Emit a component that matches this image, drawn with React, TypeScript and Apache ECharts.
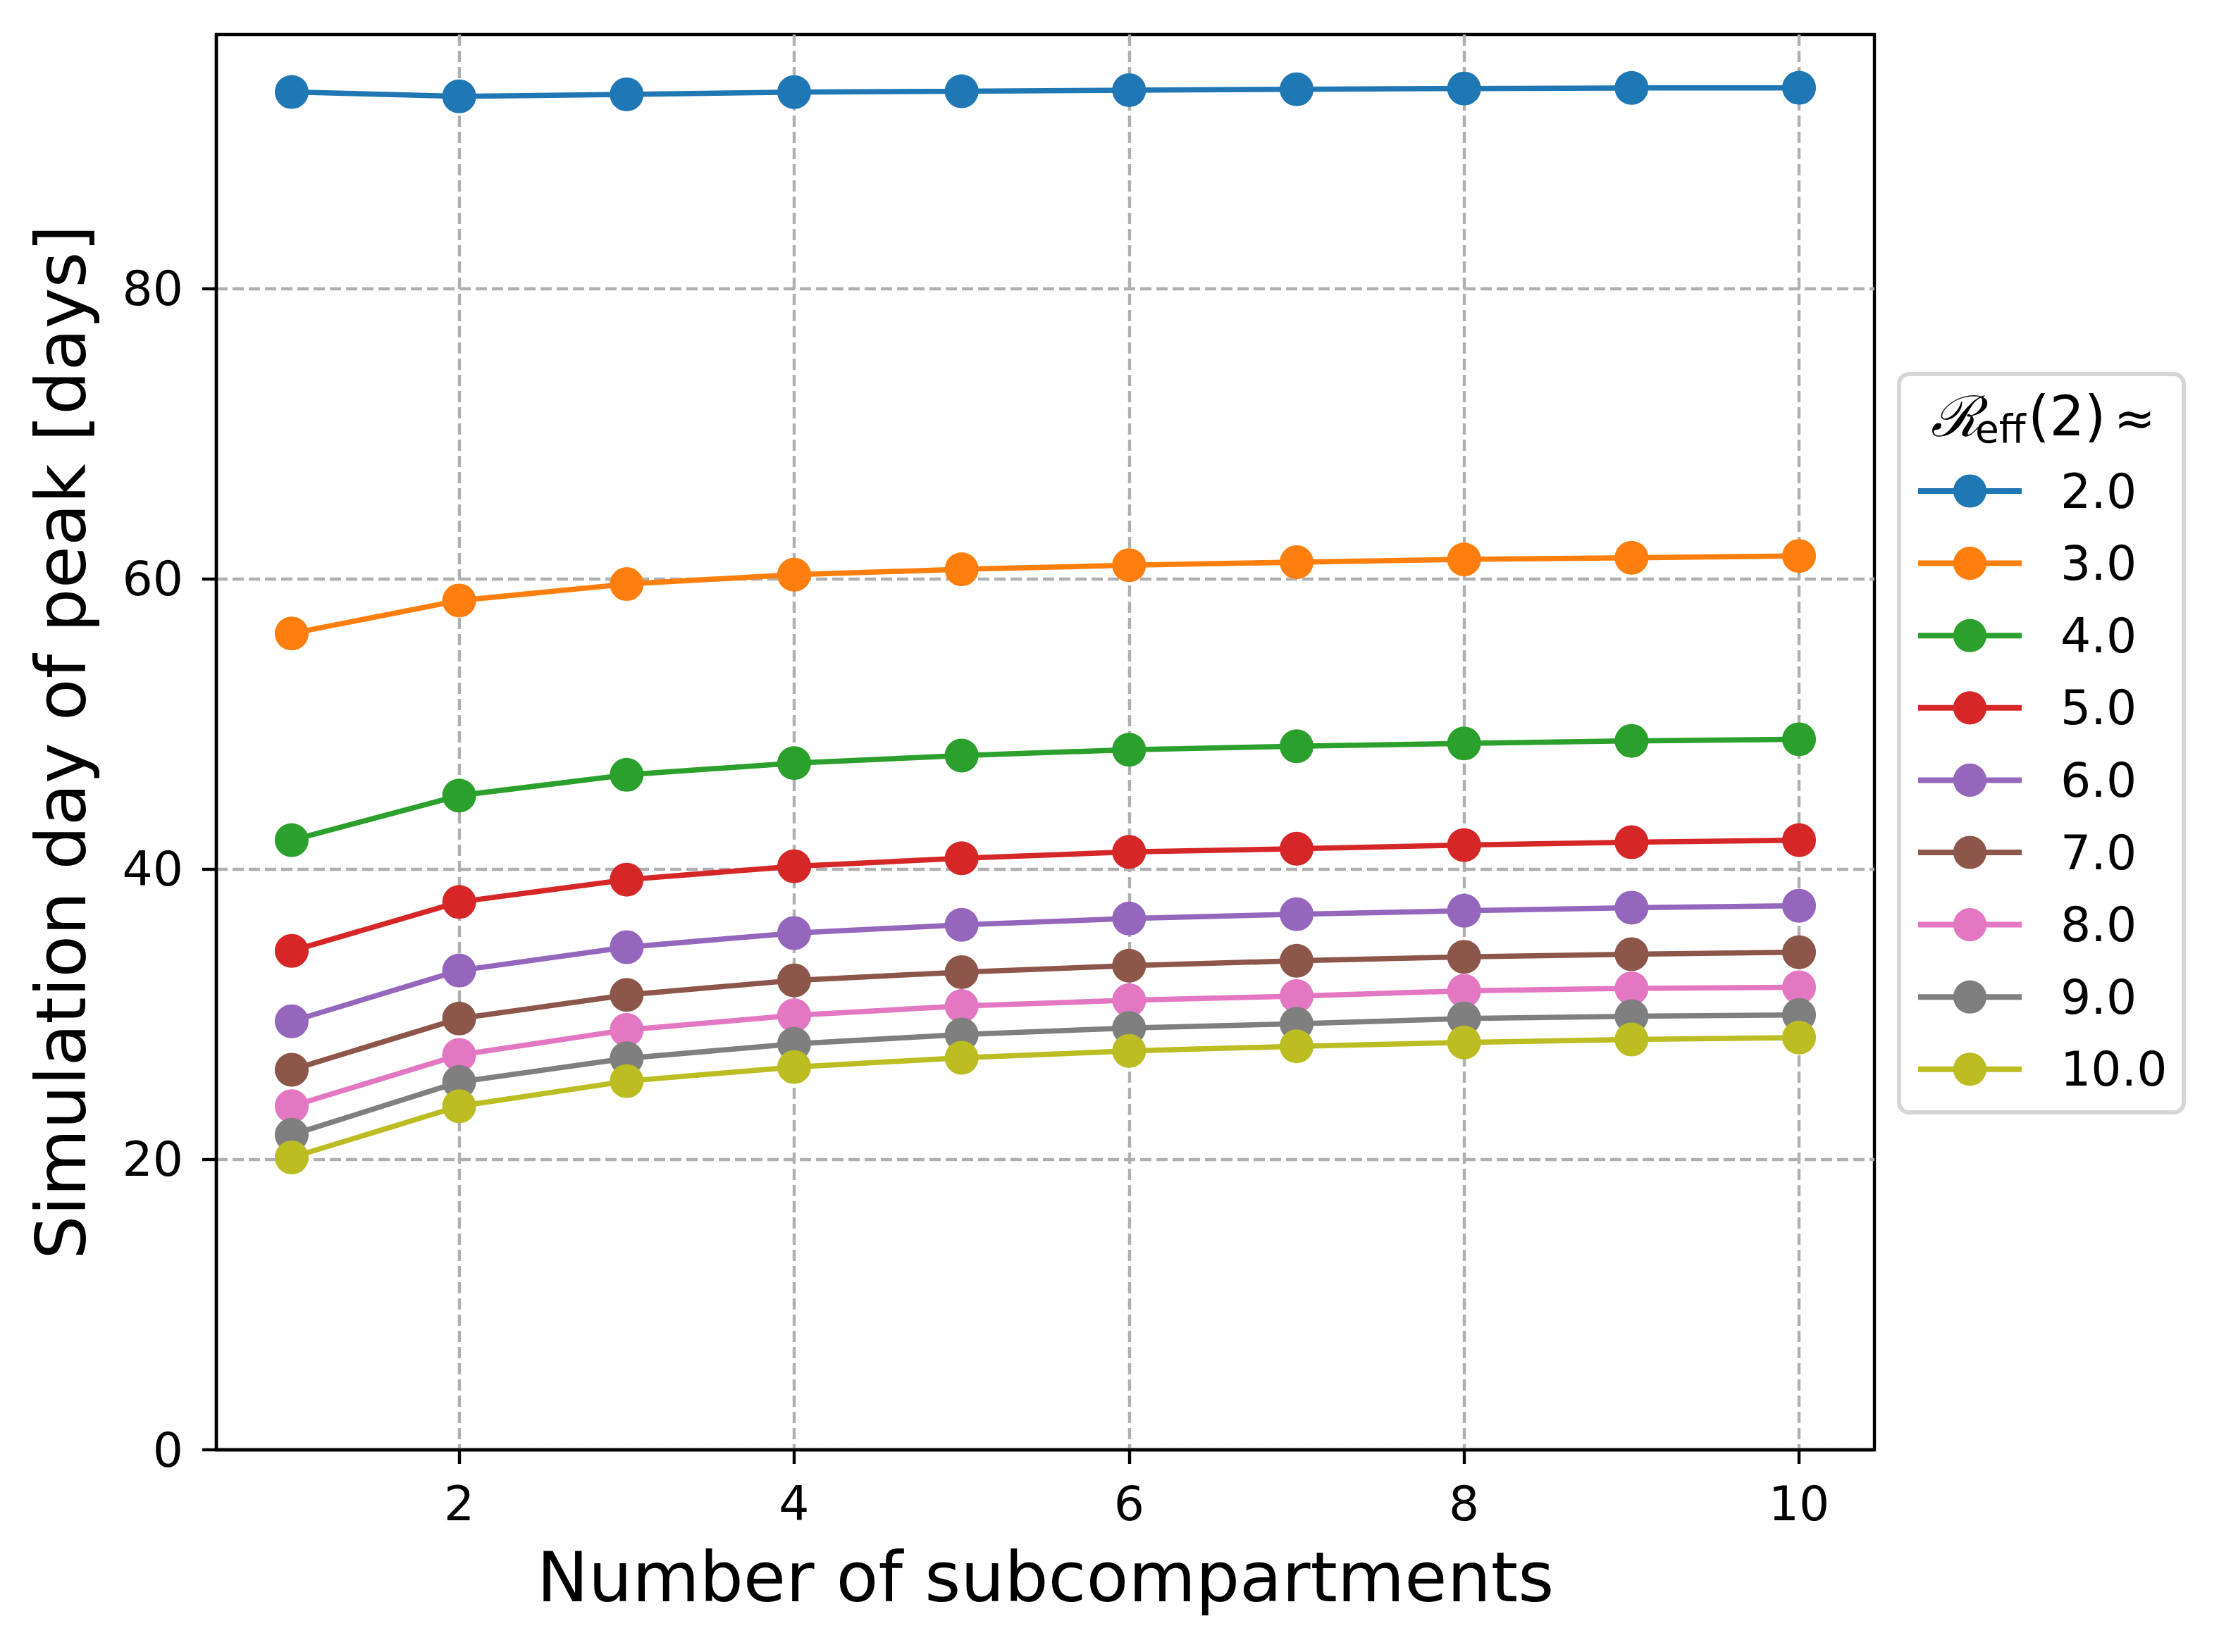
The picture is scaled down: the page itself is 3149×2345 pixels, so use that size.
import React, { useEffect, useRef } from "react";
import * as echarts from "echarts";

const subcompartments = [1, 2, 3, 4, 5, 6, 7, 8, 9, 10];
const seriesNames = ["2.0", "3.0", "4.0", "5.0", "6.0", "7.0", "8.0", "9.0", "10.0"];
const colors = ["#1f77b4", "#ff7f0e", "#2ca02c", "#d62728", "#9467bd", "#8c564b", "#e377c2", "#7f7f7f", "#bcbd22"];

const r20 = [93.54, 93.24, 93.38, 93.53, 93.59, 93.67, 93.73, 93.78, 93.82, 93.83];
const r30 = [56.24, 58.51, 59.64, 60.29, 60.66, 60.94, 61.15, 61.34, 61.45, 61.58];
const r40 = [42.0, 45.07, 46.5, 47.31, 47.83, 48.23, 48.47, 48.66, 48.84, 48.95];
const r50 = [34.37, 37.74, 39.28, 40.2, 40.75, 41.19, 41.41, 41.66, 41.86, 42.0];
const r60 = [29.52, 33.02, 34.63, 35.6, 36.17, 36.6, 36.9, 37.14, 37.35, 37.48];
const r70 = [26.18, 29.71, 31.34, 32.34, 32.91, 33.35, 33.69, 33.96, 34.14, 34.28];
const r80 = [23.67, 27.2, 28.93, 29.93, 30.57, 30.97, 31.26, 31.62, 31.79, 31.86];
const r90 = [21.7, 25.34, 26.97, 27.97, 28.61, 29.06, 29.35, 29.71, 29.87, 29.96];
const r100 = [20.14, 23.67, 25.4, 26.37, 27.01, 27.48, 27.8, 28.06, 28.27, 28.4];
const allValues = [r20, r30, r40, r50, r60, r70, r80, r90, r100];

const xTicks = [2, 4, 6, 8, 10];
const yTicks = [0, 20, 40, 60, 80];

const FONT = "DejaVu Sans";

export default function App() {
  const ref = useRef<HTMLDivElement>(null);
  useEffect(() => {
    if (!ref.current) return;
    const chart = echarts.init(ref.current, undefined, { renderer: "svg" });
    const gridStyle = { color: "#b0b0b0", width: 4.4, type: [16, 7] as any };
    const option: any = {
      animation: false,
      backgroundColor: "#ffffff",
      grid: {
        left: 307,
        right: 489,
        top: 49,
        bottom: 287,
        show: true,
        borderColor: "#000",
        borderWidth: 4.4,
        backgroundColor: "transparent",
      },
      xAxis: {
        type: "value",
        min: 0.55,
        max: 10.45,
        name: "Number of subcompartments",
        nameLocation: "middle",
        nameGap: 132,
        nameTextStyle: { fontFamily: FONT, fontSize: 98, color: "#000" },
        axisLine: { show: true, lineStyle: { color: "#000", width: 4.4 } },
        axisTick: { show: true, length: 20, lineStyle: { color: "#000", width: 4.4 }, customValues: xTicks },
        axisLabel: { fontFamily: FONT, fontSize: 68, color: "#000", margin: 42, customValues: xTicks },
        splitLine: { show: true, lineStyle: gridStyle },
      },
      yAxis: {
        type: "value",
        min: 0,
        max: 97.5,
        name: "Simulation day of peak [days]",
        nameLocation: "middle",
        nameGap: 171,
        nameTextStyle: { fontFamily: FONT, fontSize: 98, color: "#000" },
        axisLine: { show: true, lineStyle: { color: "#000", width: 4.4 } },
        axisTick: { show: true, length: 20, lineStyle: { color: "#000", width: 4.4 }, customValues: yTicks },
        axisLabel: { fontFamily: FONT, fontSize: 68, color: "#000", margin: 47, customValues: yTicks },
        splitLine: { show: true, lineStyle: gridStyle },
      },
      legend: {
        orient: "vertical",
        left: 2718,
        top: 663,
        padding: 0,
        itemWidth: 147,
        itemHeight: 59,
        itemGap: 34.6,
        z: 5,
        data: seriesNames,
        lineStyle: { width: 8 },
        textStyle: { fontFamily: FONT, fontSize: 68, color: "#000", lineHeight: 59, padding: [0, 0, 0, 50] },
      },
      graphic: [
        {
          type: "rect",
          z: 1,
          shape: { x: 2695, y: 531, width: 404, height: 1048, r: 14 },
          style: { fill: "#ffffff", stroke: "#d6d6d6", lineWidth: 6 },
        },
        {
          type: "text",
          z: 6,
          x: 2740,
          y: 591,
          style: { text: "ℛ", fontFamily: "DejaVu Serif", fontStyle: "italic", fontSize: 80, fill: "#000", align: "left", verticalAlign: "middle" },
        },
        {
          type: "text",
          z: 6,
          x: 2803,
          y: 609,
          style: { text: "eff", fontFamily: FONT, fontSize: 55, fill: "#000", align: "left", verticalAlign: "middle" },
        },
        {
          type: "text",
          z: 6,
          x: 2878,
          y: 591,
          style: { text: "(2)", fontFamily: FONT, fontSize: 78, fill: "#000", align: "left", verticalAlign: "middle" },
        },
        {
          type: "text",
          z: 6,
          x: 3000,
          y: 594,
          style: { text: "≈", fontFamily: FONT, fontSize: 70, fill: "#000", align: "left", verticalAlign: "middle" },
        },
      ],
      series: seriesNames.map((name, i) => ({
        name,
        type: "line",
        data: subcompartments.map((x, j) => [x, allValues[i][j]]),
        symbol: "circle",
        symbolSize: 48,
        showSymbol: true,
        color: colors[i],
        lineStyle: { color: colors[i], width: 7.5 },
        itemStyle: { color: colors[i], borderWidth: 0 },
        emphasis: { disabled: true },
        z: 2 + i,
      })),
    };
    chart.setOption(option);
    return () => chart.dispose();
  }, []);
  return (
    <div
      ref={ref}
      style={{ position: "fixed", left: 0, top: 0, width: 3149, height: 2345, background: "#fff" }}
    />
  );
}
